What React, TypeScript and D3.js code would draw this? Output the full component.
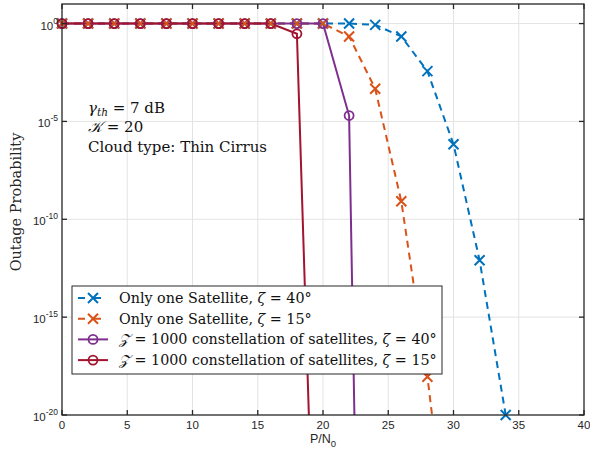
import React from 'react';
import * as d3 from 'd3';

const svgWidth = 590;
const svgHeight = 455;
const margin = { left: 62, right: 6, top: 4, bottom: 40 };
const width = svgWidth - margin.left - margin.right;
const height = svgHeight - margin.top - margin.bottom;

// P/N0 grid (dB)
const snrOne = [0, 2, 4, 6, 8, 10, 12, 14, 16, 18, 20, 22, 24, 26, 28, 30, 32, 34];
const oneSat40 = [1, 1, 1, 1, 1, 1, 1, 1, 1, 1, 1, 1, 0.86, 0.22, 3.7e-3, 6.8e-7, 8e-13, 1e-20];
const snrOne15 = [0, 2, 4, 6, 8, 10, 12, 14, 16, 18, 20, 22, 24, 26, 28, 30];
const oneSat15 = [1, 1, 1, 1, 1, 1, 1, 1, 1, 1, 1, 0.22, 4.7e-4, 8.3e-10, 9e-19, 1e-29];
const snrConst40 = [0, 2, 4, 6, 8, 10, 12, 14, 16, 18, 20, 22, 24];
const const40 = [1, 1, 1, 1, 1, 1, 1, 1, 1, 1, 1, 2e-5, 1e-80];
const snrConst15 = [0, 2, 4, 6, 8, 10, 12, 14, 16, 18, 20];
const const15 = [1, 1, 1, 1, 1, 1, 1, 1, 1, 0.3, 1e-43];

const xTicks = [0, 5, 10, 15, 20, 25, 30, 35, 40];
const yTickExp = [0, -5, -10, -15, -20];

const series = [
  { name: 'Only one Satellite, ', angle: '40°', x: snrOne, y: oneSat40, color: '#0072BD', dash: '7,5', marker: 'x', z: false },
  { name: 'Only one Satellite, ', angle: '15°', x: snrOne15, y: oneSat15, color: '#D95319', dash: '7,5', marker: 'x', z: false },
  { name: ' = 1000 constellation of satellites, ', angle: '40°', x: snrConst40, y: const40, color: '#7E2F8E', dash: null, marker: 'o', z: true },
  { name: ' = 1000 constellation of satellites, ', angle: '15°', x: snrConst15, y: const15, color: '#A2142F', dash: null, marker: 'o', z: true },
];

const xScale = d3.scaleLinear().domain([0, 40]).range([0, width]);
const yScale = d3.scaleLog().domain([1e-20, 1e1]).range([height, 0]);

const axisColor = '#262626';
const gridColor = '#e3e3e3';
const sans = '"Liberation Sans", Arial, sans-serif';
const serif = '"DejaVu Serif", "Liberation Serif", serif';

const Marker = ({ type, cx, cy, color }: any) => {
  if (type === 'x') {
    const s = 5;
    return (
      <path d={`M${cx - s},${cy - s}L${cx + s},${cy + s}M${cx - s},${cy + s}L${cx + s},${cy - s}`}
        stroke={color} strokeWidth={2} fill="none" />
    );
  }
  return <circle cx={cx} cy={cy} r={4.5} stroke={color} strokeWidth={1.8} fill="none" />;
};

export default function App() {
  const line = d3.line<[number, number]>()
    .x(d => xScale(d[0]))
    .y(d => yScale(d[1]));

  const legendX = 72 - margin.left;
  const legendY = 286 - margin.top;
  const legendW = 370;
  const legendH = 88;

  return (
    <svg width={svgWidth} height={svgHeight} style={{ position: 'absolute', left: 0, top: 0, background: '#fff' }}>
      <defs>
        <clipPath id="plotClip">
          <rect x={0} y={0} width={width} height={height} />
        </clipPath>
      </defs>
      <g transform={`translate(${margin.left},${margin.top})`}>
        {/* grid */}
        {xTicks.slice(1, -1).map(t => (
          <line key={'gx' + t} x1={xScale(t)} x2={xScale(t)} y1={0} y2={height} stroke={gridColor} strokeWidth={1} />
        ))}
        {yTickExp.slice(0, -1).map(e => (
          <line key={'gy' + e} x1={0} x2={width} y1={yScale(Math.pow(10, e))} y2={yScale(Math.pow(10, e))} stroke={gridColor} strokeWidth={1} />
        ))}

        {/* series lines */}
        <g clipPath="url(#plotClip)">
          {series.map((s, i) => (
            <path key={'l' + i}
              d={line(s.x.map((x, j) => [x, s.y[j]] as [number, number])) || ''}
              fill="none" stroke={s.color} strokeWidth={2}
              strokeDasharray={s.dash || undefined} />
          ))}
        </g>
        {series.map((s, i) => (
          <g key={'m' + i}>
            {s.x.map((x, j) => s.y[j] >= 1e-20 ? (
              <Marker key={j} type={s.marker} cx={xScale(x)} cy={yScale(s.y[j])} color={s.color} />
            ) : null)}
          </g>
        ))}

        {/* box and ticks */}
        <rect x={0} y={0} width={width} height={height} fill="none" stroke={axisColor} strokeWidth={1.3} />
        {xTicks.map(t => (
          <g key={'tx' + t}>
            <line x1={xScale(t)} x2={xScale(t)} y1={height} y2={height - 5} stroke={axisColor} strokeWidth={1.3} />
            <line x1={xScale(t)} x2={xScale(t)} y1={0} y2={5} stroke={axisColor} strokeWidth={1.3} />
            <text x={xScale(t)} y={height + 14} textAnchor="middle" fontFamily={sans} fontSize={11.5} fill={axisColor}>{t}</text>
          </g>
        ))}
        {yTickExp.map(e => {
          const y = yScale(Math.pow(10, e));
          return (
            <g key={'ty' + e}>
              <line x1={0} x2={5} y1={y} y2={y} stroke={axisColor} strokeWidth={1.3} />
              <line x1={width} x2={width - 5} y1={y} y2={y} stroke={axisColor} strokeWidth={1.3} />
              <text x={-4} y={y + 6} textAnchor="end" fontFamily={sans} fontSize={11.5} fill={axisColor}>
                10<tspan dy={-6} fontSize={8.5}>{e}</tspan>
              </text>
            </g>
          );
        })}

        {/* axis labels */}
        <text x={xScale(20)} y={height + 28} textAnchor="middle" fontFamily={sans} fontSize={12.5} fill={axisColor}>
          P/N<tspan dy={4} fontSize={9.5}>0</tspan>
        </text>
        <text transform={`translate(${21 - margin.left},${202 - margin.top}) rotate(-90)`} textAnchor="middle" fontFamily={serif} fontSize={14.5} fill={axisColor}>
          Outage Probability
        </text>

        {/* annotation */}
        <g fontFamily={serif} fontSize={15} fill="#111">
          <text x={88 - margin.left} y={113 - margin.top}>
            <tspan fontStyle="italic">γ</tspan><tspan fontStyle="italic" fontSize={10.5} dy={3}>th</tspan><tspan dy={-3}> = 7 dB</tspan>
          </text>
          <text x={88 - margin.left} y={132 - margin.top}>
            <tspan fontStyle="italic">𝒦</tspan> = 20
          </text>
          <text x={88 - margin.left} y={152 - margin.top}>Cloud type: Thin Cirrus</text>
        </g>

        {/* legend */}
        <g transform={`translate(${legendX},${legendY})`}>
          <rect x={0} y={0} width={legendW} height={legendH} fill="#fff" stroke={axisColor} strokeWidth={1} />
          {series.map((s, i) => {
            const cy = 12 + i * 20.7;
            return (
              <g key={'lg' + i}>
                <line x1={6} x2={36} y1={cy} y2={cy} stroke={s.color} strokeWidth={2} strokeDasharray={s.dash ? '7,9' : undefined} />
                <Marker type={s.marker} cx={21} cy={cy} color={s.color} />
                <text x={47} y={cy + 5} fontFamily={serif} fontSize={14.3} fill="#111">
                  {s.z ? <tspan fontStyle="italic">𝒵</tspan> : null}{s.name}<tspan fontStyle="italic">ζ</tspan> = {s.angle}
                </text>
              </g>
            );
          })}
        </g>
      </g>
    </svg>
  );
}
